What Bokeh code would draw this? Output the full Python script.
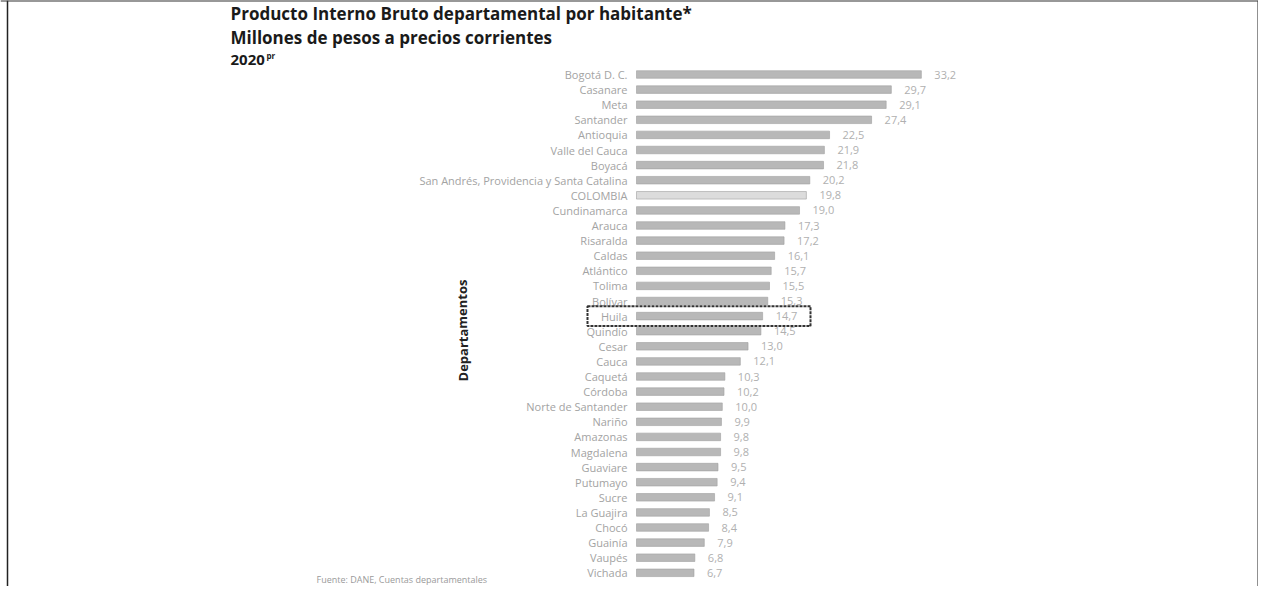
from bokeh.plotting import figure
from bokeh.models import ColumnDataSource, Range1d, Span, Label
from bokeh.core.properties import value
from bokeh.embed import file_html
from bokeh.resources import INLINE

departamentos = [
    "Bogotá D. C.", "Casanare", "Meta", "Santander", "Antioquia", "Valle del Cauca",
    "Boyacá", "San Andrés, Providencia y Santa Catalina", "COLOMBIA", "Cundinamarca",
    "Arauca", "Risaralda", "Caldas", "Atlántico", "Tolima", "Bolívar", "Huila",
    "Quindío", "Cesar", "Cauca", "Caquetá", "Córdoba", "Norte de Santander", "Nariño",
    "Amazonas", "Magdalena", "Guaviare", "Putumayo", "Sucre", "La Guajira", "Chocó",
    "Guainía", "Vaupés", "Vichada",
]
pib_hab = [
    33.2, 29.7, 29.1, 27.4, 22.5, 21.9,
    21.8, 20.2, 19.8, 19.0,
    17.3, 17.2, 16.1, 15.7, 15.5, 15.3, 14.7,
    14.5, 13.0, 12.1, 10.3, 10.2, 10.0, 9.9,
    9.8, 9.8, 9.5, 9.4, 9.1, 8.5, 8.4,
    7.9, 6.8, 6.7,
]
destacado = "Huila"
titulo = ["Producto Interno Bruto departamental por habitante*",
          "Millones de pesos a precios corrientes"]
anio = "2020"
anio_sup = "pr"
fuente = "Fuente: DANE, Cuentas departamentales"

n = len(departamentos)
ys = [-i for i in range(n)]
colores = ["#dcdcdc" if d == "COLOMBIA" else "#b8b8b8" for d in departamentos]
etiquetas = [f"{v:.1f}".replace(".", ",") for v in pib_hab]

src = ColumnDataSource(dict(dep=departamentos, v=pib_hab, y=ys, c=colores, lab=etiquetas))

W, H = 1258, 586
PX = 8.58          # pixels per unit on x
RY = 15.1          # pixels per row
X0 = -636 / PX
Y0 = 74 / RY
p = figure(width=W, height=H, output_backend="svg", toolbar_location=None,
           x_range=Range1d(X0, X0 + W / PX), y_range=Range1d(Y0 - H / RY, Y0),
           min_border=0)
p.axis.visible = False
p.grid.visible = False
p.outline_line_color = None
p.background_fill_color = "white"

p.hbar(y="y", left=0, right="v", height=0.5, fill_color="c", line_color="#a0a0a0",
       line_width=0.6, source=src)

p.text(x=0, y="y", text="dep", source=src, x_offset=-9, text_align="right",
       text_baseline="middle", text_font=value("Open Sans"), text_font_size="11px",
       text_color="#a3a3a3")
p.text(x="v", y="y", text="lab", source=src, x_offset=13, text_align="left",
       text_baseline="middle", text_font=value("Open Sans"), text_font_size="11px",
       text_color="#b0b0b0")

# highlight box around Huila
hi = departamentos.index(destacado)
p.quad(left=X0 + 587 / PX, right=X0 + 810 / PX, top=-hi + 0.66, bottom=-hi - 0.66,
       fill_color=None, line_color="#333333", line_width=2, line_dash="3 1")

# titles
TX = X0 + 230 / PX
for k, t in enumerate(titulo):
    p.add_layout(Label(x=TX, y=Y0 - (13 + 24 * k) / RY, text=t,
                       text_font="Open Sans", text_font_style="bold", text_font_size="17px",
                       text_color="#1a1a1a", text_baseline="middle"))
p.add_layout(Label(x=TX, y=Y0 - 59 / RY, text=anio, text_font="Open Sans",
                   text_font_style="bold", text_font_size="15px", text_color="#1a1a1a",
                   text_baseline="middle"))
p.add_layout(Label(x=TX + 36 / PX, y=Y0 - 55 / RY, text=anio_sup, text_font="Open Sans",
                   text_font_style="bold", text_font_size="8px", text_color="#1a1a1a",
                   text_baseline="middle"))

# axis title
p.add_layout(Label(x=X0 + 462 / PX, y=Y0 - 330 / RY, text="Departamentos", angle=1.5708,
                   text_font="Open Sans", text_font_style="bold", text_font_size="13px",
                   text_color="#222222", text_align="center", text_baseline="middle"))

# source note
p.add_layout(Label(x=X0 + 316 / PX, y=Y0 - (H - 1) / RY, text=fuente, text_font="Open Sans",
                   text_font_size="9px", text_color="#9a9a9a", text_baseline="bottom"))

# scanned page frame
p.add_layout(Span(location=X0 + 7 / PX, dimension="height", line_color="#222222", line_width=1.5))
p.add_layout(Span(location=X0 + W / PX, dimension="height", line_color="#222222", line_width=2))
p.add_layout(Span(location=Y0, dimension="width", line_color="#333333", line_width=2))

open("out.html", "w").write(file_html(p, INLINE))
